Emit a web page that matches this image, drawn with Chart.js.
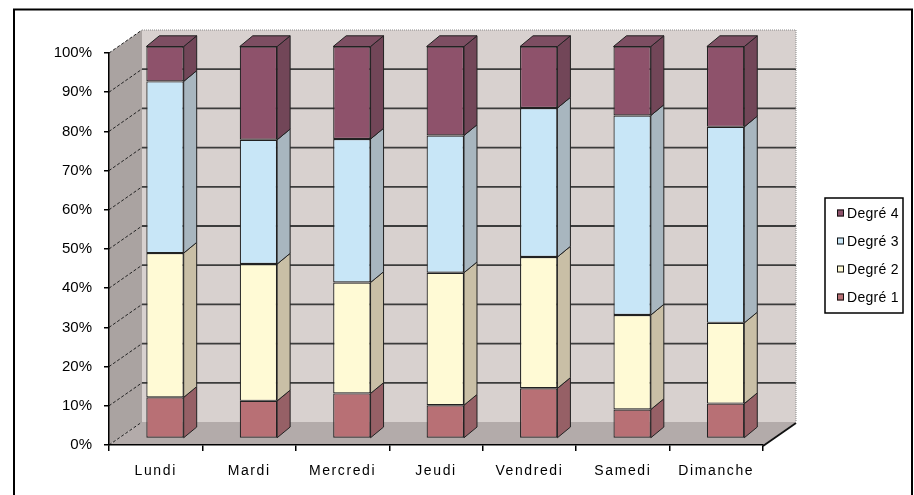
<!DOCTYPE html>
<html lang="fr">
<head>
<meta charset="utf-8">
<title>Degrés par jour</title>
<script src="https://cdn.jsdelivr.net/npm/chart.js@4.4.1/dist/chart.umd.min.js"></script>
<style>
    html, body { margin: 0; padding: 0; background: #fff; }
    #wrap { position: relative; width: 914px; height: 495px; }
</style>
</head>
<body>
<div id="wrap"><canvas id="degreChart"></canvas></div>
<script>
// Data (percent of each day)
const categories = ['Lundi', 'Mardi', 'Mercredi', 'Jeudi', 'Vendredi', 'Samedi', 'Dimanche'];
const seriesNames = ['Degré 1', 'Degré 2', 'Degré 3', 'Degré 4'];
const degre1 = [10.5, 9.6, 11.5, 8.5, 12.8, 7.4, 8.9];
const degre2 = [36.8, 34.9, 28.3, 33.8, 33.5, 24.1, 20.6];
const degre3 = [43.8, 31.7, 36.6, 35.0, 38.0, 50.9, 50.0];
const degre4 = [8.9, 23.8, 23.6, 22.7, 15.7, 17.6, 20.5];
const yTicks = [0, 10, 20, 30, 40, 50, 60, 70, 80, 90, 100];

// Colours: front face, side face
const frontColors = ['#b87075', '#fffad5', '#c8e6f7', '#8e526b'];
const sideColors = ['#966066', '#c9bfa6', '#a8b6bf', '#724658'];
const topColor = '#7d4e62';

// 3D look: wall depth and bar depth
const WALL_DX = 33, WALL_DY = -23;
const BAR_SHIFT_X = 9.3, BAR_SHIFT_Y = -6.5;
const BAR_DX = 13, BAR_DY = -10.7;

const FONT = "'Liberation Sans', Arial, sans-serif";

/**
 * Walls, floor and back gridlines, drawn before everything else
 */
const wallsPlugin = {
    id: 'walls',
    beforeDraw(chart) {
        const ctx = chart.ctx;
        const area = chart.chartArea;
        const y = chart.scales.y;
        const L = area.left, R = area.right, T = area.top, B = area.bottom;

        ctx.save();
        ctx.fillStyle = '#fff';
        ctx.fillRect(0, 0, chart.width, chart.height);

        // back wall
        ctx.fillStyle = '#d8d1cf';
        ctx.fillRect(L + WALL_DX, T + WALL_DY, R - L, B - T);

        // left wall
        ctx.fillStyle = '#aaa3a1';
        ctx.beginPath();
        ctx.moveTo(L, T);
        ctx.lineTo(L + WALL_DX, T + WALL_DY);
        ctx.lineTo(L + WALL_DX, B + WALL_DY);
        ctx.lineTo(L, B);
        ctx.closePath();
        ctx.fill();

        // floor
        ctx.fillStyle = '#b3abaa';
        ctx.beginPath();
        ctx.moveTo(L, B);
        ctx.lineTo(R, B);
        ctx.lineTo(R + WALL_DX, B + WALL_DY);
        ctx.lineTo(L + WALL_DX, B + WALL_DY);
        ctx.closePath();
        ctx.fill();

        // back gridlines and dashed lines on the left wall
        yTicks.forEach(v => {
            const py = y.getPixelForValue(v);
            if (v > 0 && v < 100) {
                ctx.strokeStyle = '#3c3c3c';
                ctx.lineWidth = 1.8;
                ctx.setLineDash([]);
                ctx.beginPath();
                ctx.moveTo(L + WALL_DX, py + WALL_DY);
                ctx.lineTo(R + WALL_DX, py + WALL_DY);
                ctx.stroke();
            }
            ctx.strokeStyle = '#222';
            ctx.lineWidth = 1;
            ctx.setLineDash([3, 2]);
            ctx.beginPath();
            ctx.moveTo(L, py);
            ctx.lineTo(L + WALL_DX, py + WALL_DY);
            ctx.stroke();
        });

        // dotted outline of the back wall
        ctx.strokeStyle = '#8a8a8a';
        ctx.lineWidth = 1;
        ctx.setLineDash([1, 1]);
        ctx.beginPath();
        ctx.moveTo(L + WALL_DX, T + WALL_DY);
        ctx.lineTo(R + WALL_DX, T + WALL_DY);
        ctx.lineTo(R + WALL_DX, B + WALL_DY);
        ctx.stroke();
        ctx.setLineDash([]);

        // right edge of the floor
        ctx.strokeStyle = '#111';
        ctx.lineWidth = 2;
        ctx.beginPath();
        ctx.moveTo(R, B + 1);
        ctx.lineTo(R + WALL_DX, B + WALL_DY + 1);
        ctx.stroke();
        ctx.restore();
    }
};

/**
 * Push the bars into the depth and add side and top faces
 */
const bars3dPlugin = {
    id: 'bars3d',
    afterUpdate(chart) {
        // wider letter spacing for the day names
        const xs = chart.scales.x;
        if (xs && !xs._spaced) {
            const orig = xs.drawLabels;
            xs.drawLabels = function(area) {
                this.ctx.save();
                this.ctx.letterSpacing = '1.6px';
                orig.call(this, area);
                this.ctx.restore();
            };
            xs._spaced = true;
        }
    },
    beforeDatasetsDraw(chart) {
        chart.ctx.save();
        chart.ctx.translate(BAR_SHIFT_X, BAR_SHIFT_Y);
    },
    afterDatasetsDraw(chart) {
        const ctx = chart.ctx;
        const last = chart.data.datasets.length - 1;
        ctx.lineWidth = 1;
        ctx.strokeStyle = '#222';
        chart.data.datasets.forEach((ds, i) => {
            const meta = chart.getDatasetMeta(i);
            meta.data.forEach(bar => {
                const p = bar.getProps(['x', 'y', 'base', 'width'], true);
                const left = p.x - p.width / 2, right = p.x + p.width / 2;
                // side face
                ctx.fillStyle = sideColors[i];
                ctx.beginPath();
                ctx.moveTo(right, p.y);
                ctx.lineTo(right + BAR_DX, p.y + BAR_DY);
                ctx.lineTo(right + BAR_DX, p.base + BAR_DY);
                ctx.lineTo(right, p.base);
                ctx.closePath();
                ctx.fill();
                ctx.stroke();
                // top face only on the last segment
                if (i === last) {
                    ctx.fillStyle = topColor;
                    ctx.beginPath();
                    ctx.moveTo(left, p.y);
                    ctx.lineTo(left + BAR_DX, p.y + BAR_DY);
                    ctx.lineTo(right + BAR_DX, p.y + BAR_DY);
                    ctx.lineTo(right, p.y);
                    ctx.closePath();
                    ctx.fill();
                    ctx.stroke();
                }
            });
        });
        ctx.restore();
    },
    afterDraw(chart) {
        const ctx = chart.ctx;
        ctx.save();
        // legend box, Degré 4 on top
        ctx.fillStyle = '#fff';
        ctx.fillRect(825, 198, 78, 115);
        ctx.strokeStyle = '#000';
        ctx.lineWidth = 1.5;
        ctx.strokeRect(825, 198, 78, 115);
        ctx.font = '14px ' + FONT;
        ctx.letterSpacing = '0.3px';
        ctx.textBaseline = 'middle';
        ctx.textAlign = 'left';
        for (let k = 0; k < seriesNames.length; k++) {
            const idx = seriesNames.length - 1 - k;
            const cy = 213 + k * 28;
            ctx.fillStyle = frontColors[idx];
            ctx.fillRect(837, cy - 3.5, 7, 7);
            ctx.lineWidth = 1;
            ctx.strokeStyle = '#111';
            ctx.strokeRect(837.5, cy - 3, 6, 6);
            ctx.fillStyle = '#000';
            ctx.fillText(chart.data.datasets[idx].label, 847, cy + 1);
        }
        // outer frame
        ctx.letterSpacing = '0px';
        ctx.strokeStyle = '#000';
        ctx.lineWidth = 2;
        ctx.strokeRect(14, 9.5, 898, 520);
        ctx.restore();
    }
};

const seriesData = [degre1, degre2, degre3, degre4];

new Chart(document.getElementById('degreChart'), {
    type: 'bar',
    data: {
        labels: categories,
        datasets: seriesData.map((values, i) => ({
            label: seriesNames[i],
            data: values,
            backgroundColor: frontColors[i],
            borderColor: '#222',
            borderWidth: 1.2,
            borderSkipped: false,
            barPercentage: 0.4,
            categoryPercentage: 1,
            clip: false
        }))
    },
    options: {
        responsive: true,
        maintainAspectRatio: false,
        animation: false,
        events: [],
        layout: { padding: { top: 53, right: 151, left: 0, bottom: 0 } },
        plugins: {
            legend: { display: false },
            tooltip: { enabled: false }
        },
        scales: {
            x: {
                stacked: true,
                grid: { display: true, drawOnChartArea: false, tickLength: 6, color: '#000', lineWidth: 1.5 },
                border: { display: true, color: '#000', width: 1.5 },
                ticks: { color: '#000', padding: 12, font: { family: FONT, size: 14 } },
                afterFit(scale) { scale.height = 50; }
            },
            y: {
                stacked: true,
                min: 0,
                max: 100,
                grid: { display: true, drawOnChartArea: false, tickLength: 5, color: '#000', lineWidth: 1.5 },
                border: { display: true, color: '#000', width: 1.5 },
                ticks: {
                    stepSize: 10,
                    color: '#000',
                    padding: 12,
                    font: { family: FONT, size: 15 },
                    callback: v => v + '%'
                },
                afterFit(scale) { scale.width = 109; }
            }
        }
    },
    plugins: [wallsPlugin, bars3dPlugin]
});
</script>
</body>
</html>
